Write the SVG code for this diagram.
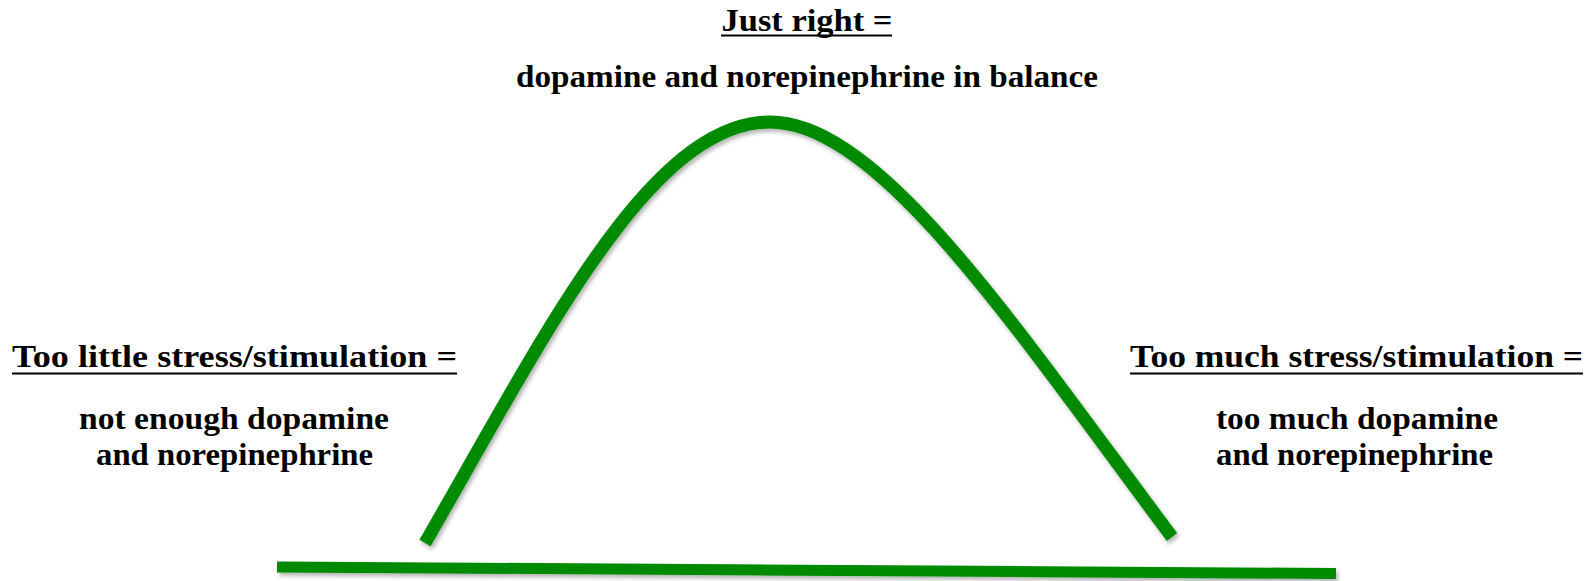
<svg xmlns="http://www.w3.org/2000/svg" width="1594" height="581" viewBox="0 0 1594 581">
  <style>
    .t { font-family: "Liberation Serif", "Times New Roman", serif; font-weight: bold; font-size: 31px; fill: #000; text-anchor: middle; }
    .ul { stroke: #000; stroke-width: 2; }
    .g { fill: none; stroke: #008a00; }
  </style>
  <defs>
    <filter id="sh" x="-5%" y="-5%" width="110%" height="115%">
      <feDropShadow dx="2" dy="3" stdDeviation="2" flood-color="#000" flood-opacity="0.3"/>
    </filter>
  </defs>
  <rect width="1594" height="581" fill="#fff"/>
  <g id="connectors" filter="url(#sh)">
    <path class="g" stroke-width="13" d="M425,543 C545,335 650,122 770,122 C880,122 1016,329 1172,537"/>
    <path class="g" stroke-width="11" d="M277,567 L1336,573.5"/>
  </g>
  <g id="top">
    <text class="t" x="807" y="31" textLength="171" lengthAdjust="spacingAndGlyphs">Just right =</text>
    <line class="ul" x1="721" y1="35.5" x2="892" y2="35.5"/>
    <text class="t" x="807" y="87" textLength="582" lengthAdjust="spacingAndGlyphs">dopamine and norepinephrine in balance</text>
  </g>
  <g id="left">
    <text class="t" x="234.5" y="367" textLength="445" lengthAdjust="spacingAndGlyphs">Too little stress/stimulation =</text>
    <line class="ul" x1="12" y1="373.5" x2="457" y2="373.5"/>
    <text class="t" x="234" y="429" textLength="310" lengthAdjust="spacingAndGlyphs">not enough dopamine</text>
    <text class="t" x="234.5" y="465" textLength="277" lengthAdjust="spacingAndGlyphs">and norepinephrine</text>
  </g>
  <g id="right">
    <text class="t" x="1356.5" y="367" textLength="453" lengthAdjust="spacingAndGlyphs">Too much stress/stimulation =</text>
    <line class="ul" x1="1130" y1="373.5" x2="1583" y2="373.5"/>
    <text class="t" x="1357" y="429" textLength="282" lengthAdjust="spacingAndGlyphs">too much dopamine</text>
    <text class="t" x="1354.5" y="465" textLength="277" lengthAdjust="spacingAndGlyphs">and norepinephrine</text>
  </g>
</svg>
